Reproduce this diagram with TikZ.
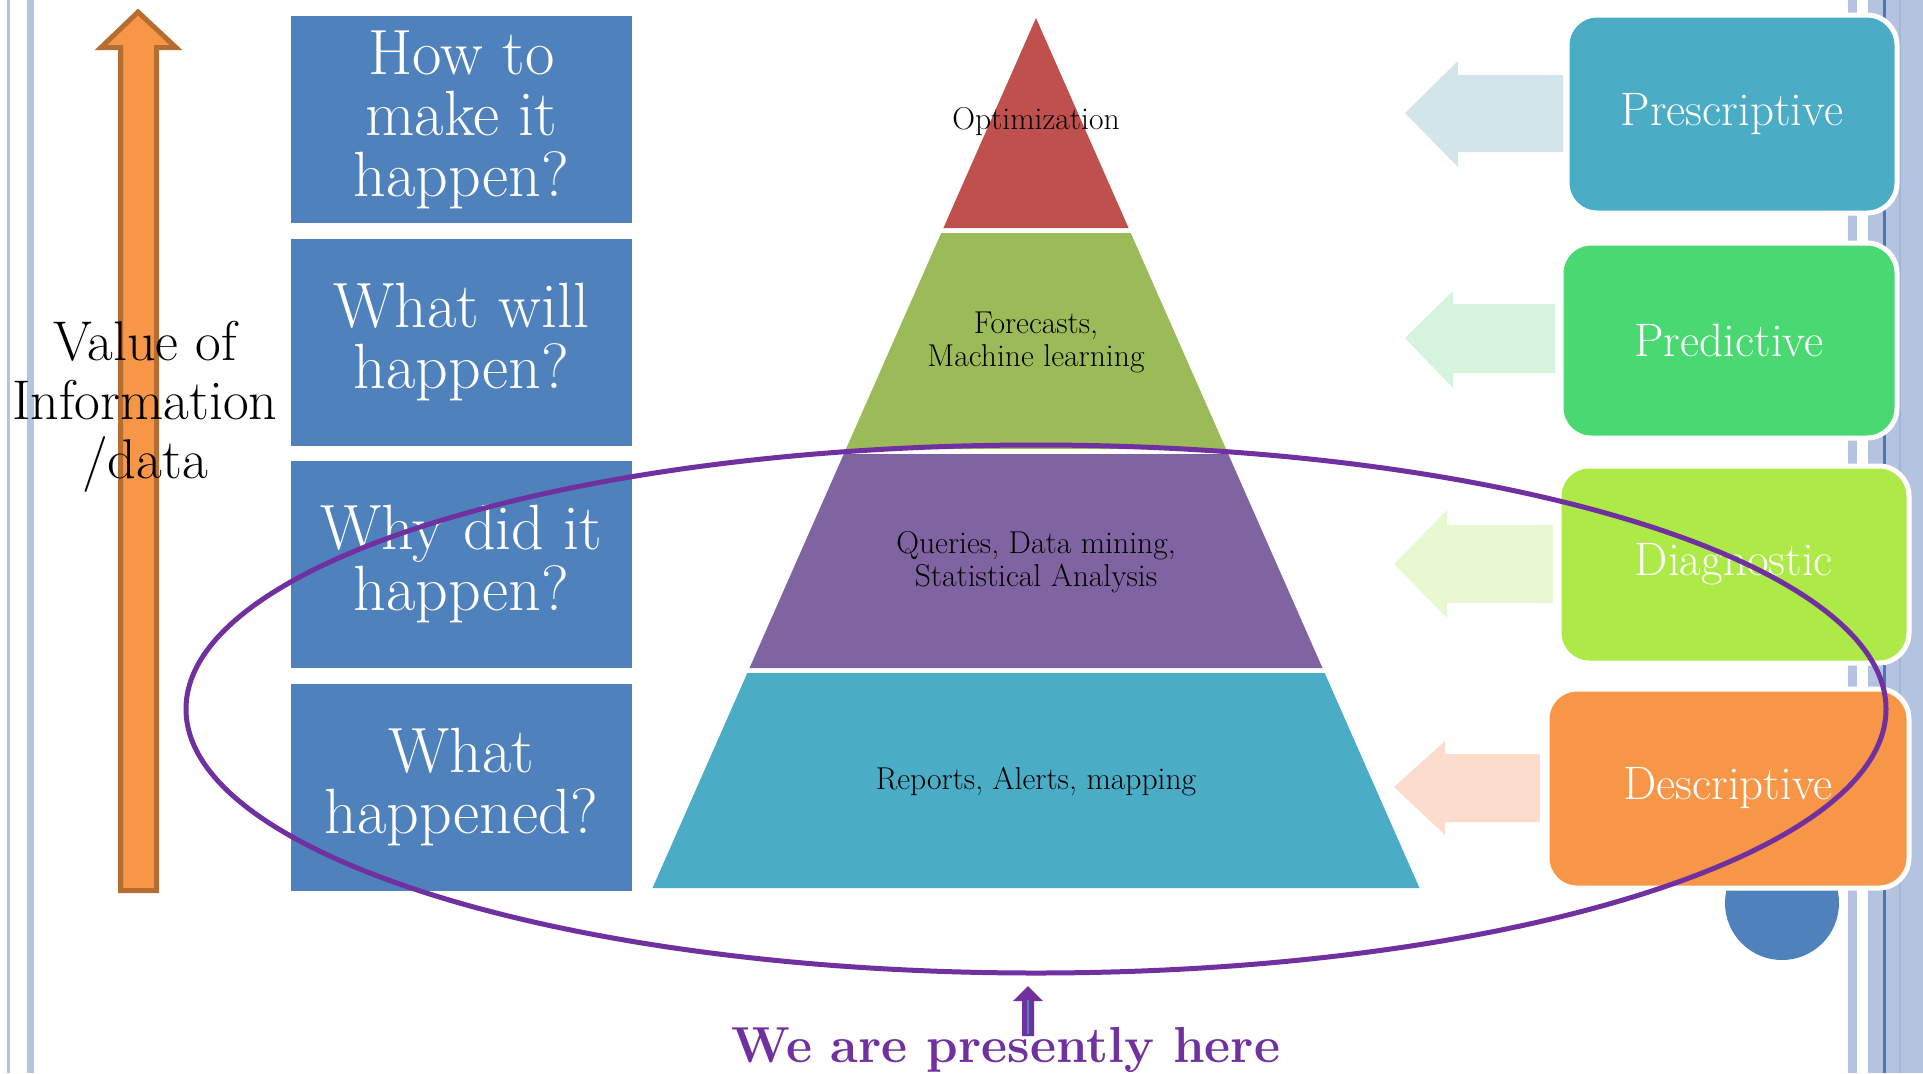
\documentclass[tikz,border=0pt]{standalone}
\usepackage{fontspec}
\definecolor{boxblue}{HTML}{4F81BD}
\definecolor{orfill}{HTML}{F79646}
\definecolor{orline}{HTML}{B66D31}
\definecolor{pyrred}{HTML}{C0504D}
\definecolor{pyrgreen}{HTML}{9BBB59}
\definecolor{pyrpurple}{HTML}{8064A2}
\definecolor{pyrteal}{HTML}{4BACC6}
\definecolor{predgreen}{HTML}{4AD873}
\definecolor{diaglime}{HTML}{ADEA47}
\definecolor{arA}{HTML}{D3E4EB}
\definecolor{arB}{HTML}{D4F4DD}
\definecolor{arC}{HTML}{EAF8D2}
\definecolor{arD}{HTML}{FBDCCD}
\definecolor{ellpurple}{HTML}{7030A0}
\definecolor{borderblue}{HTML}{B4C3E0}
\definecolor{darkline}{HTML}{4A76B8}
\definecolor{midline}{HTML}{A3B6DA}
\tikzset{
  qbox/.style={fill=boxblue, text=white, align=center, inner sep=0pt,
    minimum width=170.5pt, minimum height=103.5pt,
    font=\fontsize{32}{30.5}\selectfont},
  rbox/.style={draw=white, line width=2.5pt, rounded corners=15pt, text=white,
    inner sep=0pt, font=\fontsize{23.5}{26}\selectfont},
  pyrtext/.style={align=center, inner sep=0pt, text=black,
    font=\fontsize{15.8}{16.5}\selectfont},
}
\begin{document}
\begin{tikzpicture}[x=0.5pt,y=-0.5pt]
\useasboundingbox (0,0) rectangle (1923,1073);
% left border lines
\fill[borderblue] (7,0) rectangle (10,1073);
\fill[borderblue] (27,0) rectangle (34,1073);
% right border decoration
\fill[borderblue] (1848,0) rectangle (1857,1073);
\fill[borderblue] (1868,0) rectangle (1923,1073);
\fill[midline] (1899,0) rectangle (1901,1073);
\fill[darkline] (1883,0) rectangle (1886,1073);
% orange value arrow
\draw[orline, fill=orfill, line width=2.5pt, miter limit=10]
  (138,12) -- (176,47.5) -- (156.5,47.5) -- (156.5,890.5) -- (120.5,890.5)
  -- (120.5,47.5) -- (101,47.5) -- cycle;
\node[align=center, inner sep=0pt, font=\fontsize{28}{29.5}\selectfont]
  (val) at (145,407) {Value of\\Information\\/data};
% question boxes
\node[qbox] (q1) at (461.5,119.5) {How to\\make it\\happen?};
\node[qbox] (q2) at (461.5,342) {What will\\happen?};
\node[qbox] (q3) at (461.5,564.5) {Why did it\\happen?};
\node[qbox] (q4) at (461.5,787) {What\\happened?};
% pyramid
\fill[pyrred] (1036,18) -- (1128.6,228) -- (943.4,228) -- cycle;
\fill[pyrgreen] (941.2,233) -- (1130.8,233) -- (1226,449) -- (846,449) -- cycle;
\fill[pyrpurple] (843.8,454) -- (1228.2,454) -- (1322.5,668) -- (749.5,668) -- cycle;
\fill[pyrteal] (747.3,673) -- (1324.7,673) -- (1419.5,888) -- (652.5,888) -- cycle;
\node[pyrtext] (p1) at (1036,122) {Optimization};
\node[pyrtext] (p2) at (1036,342) {Forecasts,\\Machine learning};
\node[pyrtext] (p3) at (1036,562) {Queries, Data mining,\\Statistical Analysis};
\node[pyrtext] (p4) at (1036,782) {Reports, Alerts, mapping};
% light arrows
\fill[arA] (1405,113) -- (1458,61) -- (1458,75) -- (1563,75) -- (1563,152)
  -- (1458,152) -- (1458,167) -- cycle;
\fill[arB] (1405,338) -- (1453,291) -- (1453,304) -- (1555,304) -- (1555,373)
  -- (1453,373) -- (1453,388) -- cycle;
\fill[arC] (1394,564) -- (1447,510) -- (1447,525) -- (1553,525) -- (1553,603)
  -- (1447,603) -- (1447,618) -- cycle;
\fill[arD] (1394,787) -- (1445,741) -- (1445,754) -- (1540,754) -- (1540,822)
  -- (1445,822) -- (1445,835) -- cycle;
% blue half circle behind the descriptive box
\fill[boxblue] (1782,903) circle [radius=57];
% right boxes
\node[rbox, fill=pyrteal, minimum width=165pt, minimum height=99pt]
  (r1) at (1732,114) {Prescriptive};
\node[rbox, fill=predgreen, minimum width=168pt, minimum height=97.5pt]
  (r2) at (1729,340.5) {Predictive};
\node[rbox, fill=diaglime, minimum width=175pt, minimum height=98.5pt]
  (r3) at (1734,564.5) {Diagnostic};
\node[rbox, fill=orfill, minimum width=181pt, minimum height=99.5pt]
  (r4) at (1728,788.5) {Descriptive};
% ellipse
\draw[ellpurple, line width=2.5pt] (1036,709) ellipse [x radius=850, y radius=264];
% small up arrow
\fill[ellpurple] (1028,986) -- (1043,1001) -- (1034,1001) -- (1034,1036)
  -- (1022,1036) -- (1022,1001) -- (1013,1001) -- cycle;
\draw[boxblue, line width=0.8pt] (1028,1000) -- (1028,1034);
\node[anchor=base, inner sep=0pt, text=ellpurple,
  font=\fontsize{25.3}{28}\selectfont\bfseries] (here) at (1006,1062)
  {We are presently here};
\end{tikzpicture}
\end{document}
